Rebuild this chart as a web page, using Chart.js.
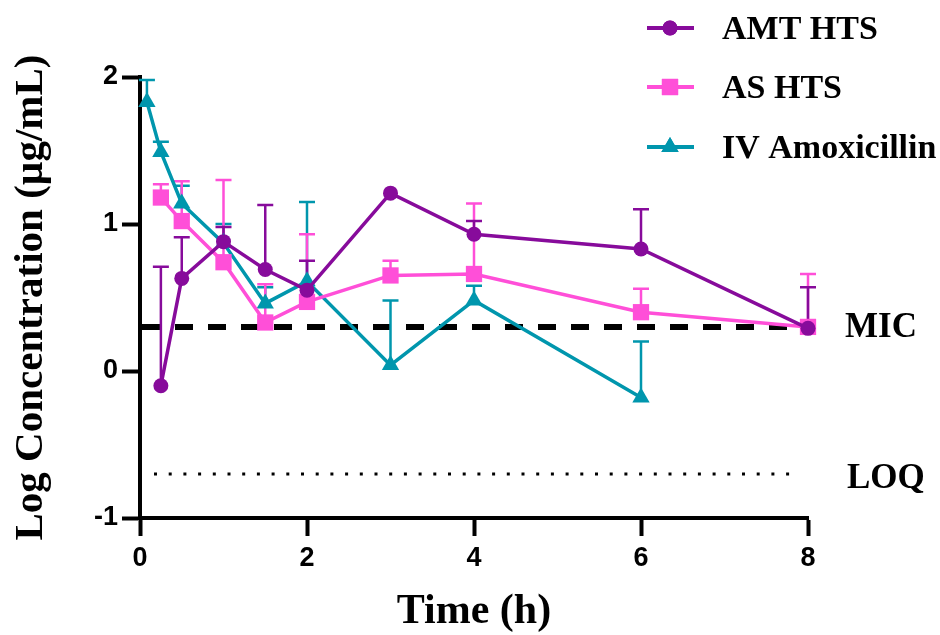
<!DOCTYPE html>
<html>
<head>
<meta charset="utf-8">
<script src="https://cdn.jsdelivr.net/npm/chart.js@4.4.1/dist/chart.umd.min.js"></script>
<style>
  html, body { margin: 0; padding: 0; background: #fff; }
  #wrap { width: 940px; height: 635px; }
</style>
</head>
<body>
<div id="wrap"><canvas id="myChart"></canvas></div>
<script>
// data (log10 µg/mL, mean + upper SD)
const times = [0.25, 0.5, 1, 1.5, 2, 3, 4, 6, 8];
const ivTimes = [0.083, 0.25, 0.5, 1, 1.5, 2, 3, 4, 6];

const amtMean = [-0.10, 0.63, 0.88, 0.69, 0.55, 1.21, 0.93, 0.83, 0.29];
const amtSd   = [0.81, 0.28, 0.10, 0.44, 0.20, 0, 0.09, 0.27, 0.28];

const asMean = [1.18, 1.02, 0.74, 0.33, 0.47, 0.65, 0.66, 0.40, 0.30];
const asSd   = [0.09, 0.27, 0.56, 0.26, 0.46, 0.10, 0.48, 0.16, 0.36];

const ivMean = [1.83, 1.49, 1.14, 0.87, 0.46, 0.61, 0.04, 0.48, -0.18];
const ivSd   = [0.15, 0.07, 0.12, 0.13, 0.11, 0.54, 0.44, 0.10, 0.38];

const xTicks = [0, 2, 4, 6, 8];
const yTicks = [-1, 0, 1, 2];
const MIC = 0.3;
const LOQ = -0.7;

const purple = '#870b9b';
const pink = '#ff4fd8';
const teal = '#0096ad';

const serif = 'Liberation Serif';
const sans = 'Liberation Sans';

function pts(xs, ys) {
    return xs.map((x, i) => ({ x: x, y: ys[i] }));
}

const series = [
    { label: 'AMT HTS', color: purple, style: 'circle', r: 7.5, xs: times, mean: amtMean, sd: amtSd },
    { label: 'AS HTS', color: pink, style: 'rect', r: 11.5, xs: times, mean: asMean, sd: asSd },
    { label: 'IV Amoxicillin', color: teal, style: 'triangle', r: 10, xs: ivTimes, mean: ivMean, sd: ivSd }
];

// reference lines + one-sided error bars, under the data
const underlay = {
    id: 'underlay',
    beforeDatasetsDraw(chart) {
        const { ctx, chartArea, scales: { x, y } } = chart;
        ctx.save();
        // MIC dashed
        ctx.strokeStyle = '#000';
        ctx.lineWidth = 6;
        ctx.setLineDash([18, 15]);
        ctx.beginPath();
        ctx.moveTo(chartArea.left + 2, y.getPixelForValue(MIC));
        ctx.lineTo(chartArea.right, y.getPixelForValue(MIC));
        ctx.stroke();
        // LOQ dotted
        ctx.lineWidth = 3;
        ctx.setLineDash([3, 11.7]);
        ctx.beginPath();
        ctx.moveTo(chartArea.left + 14, y.getPixelForValue(LOQ));
        ctx.lineTo(chartArea.right - 8, y.getPixelForValue(LOQ));
        ctx.stroke();
        ctx.setLineDash([]);

        // error bars, last series first so AMT ends on top
        for (let s = series.length - 1; s >= 0; s--) {
            const d = series[s];
            ctx.strokeStyle = d.color;
            ctx.lineWidth = 2.5;
            d.xs.forEach((t, i) => {
                if (!d.sd[i]) return;
                const px = x.getPixelForValue(t);
                const y0 = y.getPixelForValue(d.mean[i]);
                const y1 = y.getPixelForValue(d.mean[i] + d.sd[i]);
                ctx.beginPath();
                ctx.moveTo(px, y0);
                ctx.lineTo(px, y1);
                ctx.moveTo(px - 8, y1);
                ctx.lineTo(px + 8, y1);
                ctx.stroke();
            });
        }
        ctx.restore();
    },
    afterDraw(chart) {
        const { ctx, chartArea, scales: { y } } = chart;
        ctx.save();
        ctx.fillStyle = '#000';
        ctx.textBaseline = 'middle';
        ctx.font = 'bold 35px "' + serif + '"';
        ctx.fillText('MIC', chartArea.right + 37, y.getPixelForValue(MIC) + 1);
        ctx.fillText('LOQ', chartArea.right + 39, y.getPixelForValue(LOQ) + 5);

        // legend
        ctx.font = 'bold 34px "' + serif + '"';
        const rows = [28, 87, 147];
        series.forEach((d, i) => {
            const cy = rows[i];
            ctx.strokeStyle = d.color;
            ctx.lineWidth = 4;
            ctx.beginPath();
            ctx.moveTo(647, cy);
            ctx.lineTo(694, cy);
            ctx.stroke();
            ctx.fillStyle = d.color;
            Chart.helpers.drawPoint(ctx, { pointStyle: d.style, radius: d.r, borderWidth: 0 }, 670, cy);
            ctx.fill();
            ctx.fillStyle = '#000';
            ctx.fillText(d.label, 722, cy + 2);
        });
        ctx.restore();
    }
};

new Chart(document.getElementById('myChart'), {
    type: 'scatter',
    data: {
        datasets: series.map(d => ({
            label: d.label,
            data: pts(d.xs, d.mean),
            showLine: true,
            borderColor: d.color,
            backgroundColor: d.color,
            borderWidth: 3.5,
            pointStyle: d.style,
            pointRadius: d.r,
            pointHoverRadius: d.r,
            pointBorderWidth: 0,
            clip: false
        }))
    },
    options: {
        responsive: true,
        maintainAspectRatio: false,
        animation: false,
        layout: { padding: { left: 0, right: 132, top: 77, bottom: 0 } },
        plugins: {
            legend: { display: false },
            tooltip: { enabled: false }
        },
        scales: {
            x: {
                type: 'linear',
                min: 0,
                max: 8,
                afterBuildTicks: (scale) => { scale.ticks = xTicks.map(v => ({ value: v })); },
                afterFit: (scale) => { scale.height = 117; },
                border: { display: true, color: '#000', width: 4 },
                grid: { display: true, drawOnChartArea: false, drawTicks: true, tickLength: 18, tickWidth: 4, tickColor: '#000' },
                ticks: { color: '#000', padding: 6, font: { family: sans, size: 27, weight: 'bold' } },
                title: {
                    display: true,
                    text: 'Time (h)',
                    color: '#000',
                    padding: { top: 0, bottom: 0 },
                    font: { family: serif, size: 42, weight: 'bold', lineHeight: 1.1 }
                }
            },
            y: {
                type: 'linear',
                min: -1,
                max: 2,
                afterBuildTicks: (scale) => { scale.ticks = yTicks.map(v => ({ value: v })); },
                afterFit: (scale) => { scale.width = 140; },
                border: { display: true, color: '#000', width: 4 },
                grid: { display: true, drawOnChartArea: false, drawTicks: true, tickLength: 18, tickWidth: 4, tickColor: '#000' },
                ticks: { color: '#000', padding: 4, font: { family: sans, size: 27, weight: 'bold' } },
                title: {
                    display: true,
                    text: 'Log Concentration (µg/mL)',
                    color: '#000',
                    padding: { top: 9, bottom: 0 },
                    font: { family: serif, size: 41, weight: 'bold', lineHeight: 1.1 }
                }
            }
        }
    },
    plugins: [underlay]
});
</script>
</body>
</html>
